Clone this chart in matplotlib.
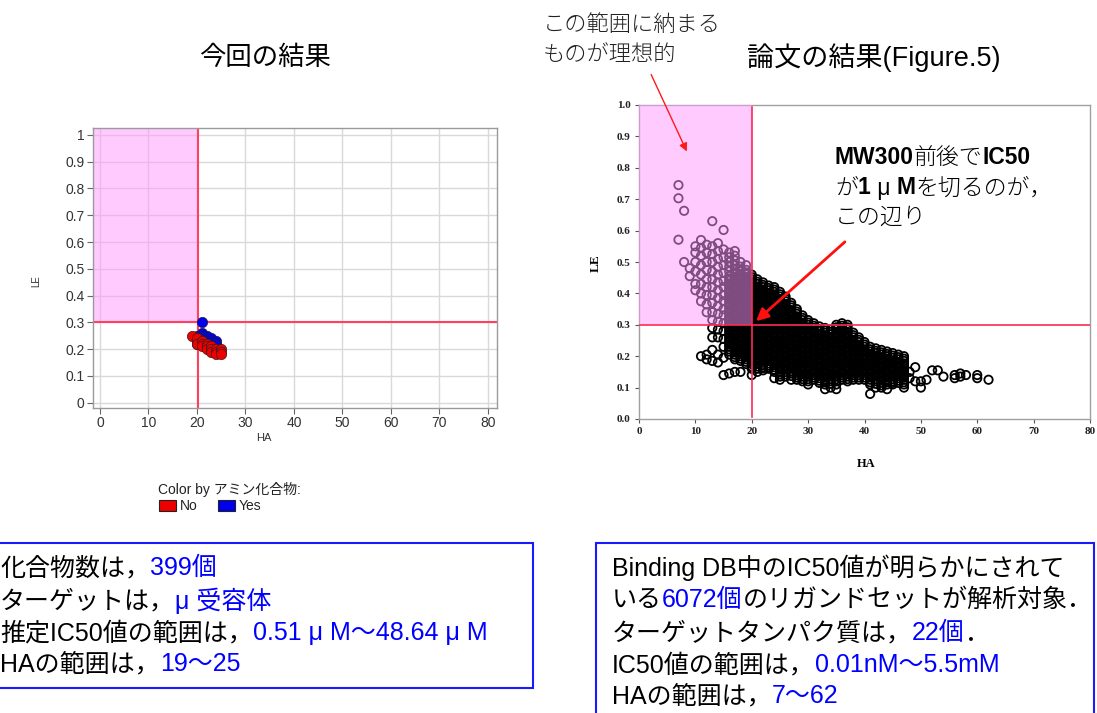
import matplotlib
matplotlib.use("Agg")
import matplotlib.pyplot as plt
from matplotlib.patches import Rectangle, FancyArrowPatch

plt.rcParams['font.family'] = ['Noto Sans CJK JP', 'DejaVu Sans']

# ---------------- data ----------------
# this study: heavy-atom count (HA) vs ligand efficiency (LE), coloured by amine flag
amine_no_ha = [19, 20, 20, 21, 21, 21, 22, 22, 22, 23, 23, 23, 24, 24, 24, 25, 25, 25]
amine_no_le = [0.25, 0.24, 0.22, 0.23, 0.22, 0.21, 0.22, 0.21, 0.20, 0.21, 0.20, 0.19,
               0.20, 0.19, 0.18, 0.20, 0.19, 0.18]
amine_yes_ha = [20, 20, 20, 21, 21, 21, 21, 22, 22, 22, 23, 23, 23, 24, 24, 24]
amine_yes_le = [0.25, 0.23, 0.22, 0.30, 0.26, 0.25, 0.24, 0.25, 0.24, 0.23, 0.24, 0.23,
                0.22, 0.23, 0.22, 0.21]

# paper (Figure 5): LE values listed per HA column
paper_ha = [7, 8, 9, 10, 11, 12, 13, 14, 15, 16, 17, 18, 19, 20, 21, 22, 23, 24, 25, 26,
            27, 28, 29, 30, 31, 32, 33, 34, 35, 36, 37, 38, 39, 40, 41, 42, 43, 44, 45,
            46, 47, 48, 49, 50, 51, 52, 53, 54, 56, 57, 58, 60, 62]
paper_le = [
    [0.745, 0.703, 0.571],
    [0.663, 0.500],
    [0.480, 0.455],
    [0.550, 0.530, 0.500, 0.470, 0.430, 0.410],
    [0.570, 0.545, 0.520, 0.490, 0.460, 0.430, 0.400, 0.375, 0.200],
    [0.555, 0.530, 0.500, 0.475, 0.445, 0.420, 0.395, 0.365, 0.340, 0.205, 0.190],
    [0.630, 0.550, 0.525, 0.500, 0.470, 0.445, 0.420, 0.395, 0.370, 0.340, 0.315, 0.290,
     0.260, 0.220, 0.185],
    [0.560, 0.535, 0.510, 0.485, 0.460, 0.435, 0.410, 0.385, 0.360, 0.335, 0.310, 0.285,
     0.260, 0.205, 0.180],
    [0.602, 0.540, 0.515, 0.490, 0.465, 0.440, 0.420, 0.395, 0.375, 0.350, 0.330, 0.305,
     0.280, 0.255, 0.230, 0.195, 0.140],
    [0.530, 0.515, 0.500, 0.485, 0.470, 0.455, 0.440, 0.425, 0.410, 0.395, 0.380, 0.365,
     0.350, 0.335, 0.320, 0.305, 0.290, 0.275, 0.260, 0.245, 0.230, 0.215, 0.205, 0.145],
    [0.535, 0.520, 0.505, 0.490, 0.475, 0.460, 0.445, 0.430, 0.415, 0.400, 0.385, 0.370,
     0.355, 0.340, 0.325, 0.310, 0.295, 0.280, 0.265, 0.250, 0.235, 0.220, 0.205, 0.190,
     0.150],
    [0.500, 0.485, 0.470, 0.455, 0.440, 0.425, 0.410, 0.395, 0.380, 0.365, 0.350, 0.335,
     0.320, 0.305, 0.290, 0.275, 0.260, 0.245, 0.230, 0.215, 0.200, 0.185, 0.150],
    [0.490, 0.475, 0.460, 0.445, 0.430, 0.415, 0.400, 0.385, 0.370, 0.355, 0.340, 0.325,
     0.310, 0.295, 0.280, 0.265, 0.250, 0.235, 0.220, 0.205, 0.190, 0.175],
    [0.460, 0.445, 0.430, 0.415, 0.400, 0.385, 0.370, 0.355, 0.340, 0.325, 0.310, 0.295,
     0.280, 0.265, 0.250, 0.235, 0.220, 0.205, 0.190, 0.175, 0.160, 0.140],
    [0.445, 0.430, 0.415, 0.400, 0.385, 0.370, 0.355, 0.340, 0.325, 0.310, 0.295, 0.280,
     0.265, 0.250, 0.235, 0.220, 0.205, 0.190, 0.175, 0.160, 0.150],
    [0.435, 0.420, 0.405, 0.390, 0.375, 0.360, 0.345, 0.330, 0.315, 0.300, 0.285, 0.270,
     0.255, 0.240, 0.225, 0.210, 0.195, 0.180, 0.165, 0.155],
    [0.425, 0.410, 0.395, 0.380, 0.365, 0.350, 0.335, 0.320, 0.305, 0.290, 0.275, 0.260,
     0.245, 0.230, 0.215, 0.200, 0.185, 0.170, 0.160],
    [0.420, 0.405, 0.390, 0.375, 0.360, 0.345, 0.330, 0.315, 0.300, 0.285, 0.270, 0.255,
     0.240, 0.225, 0.210, 0.195, 0.180, 0.165, 0.150, 0.130],
    [0.405, 0.390, 0.375, 0.360, 0.345, 0.330, 0.315, 0.300, 0.285, 0.270, 0.255, 0.240,
     0.225, 0.210, 0.195, 0.180, 0.165, 0.150, 0.135, 0.125],
    [0.390, 0.375, 0.360, 0.345, 0.330, 0.315, 0.300, 0.285, 0.270, 0.255, 0.240, 0.225,
     0.210, 0.195, 0.180, 0.165, 0.150, 0.135],
    [0.370, 0.355, 0.340, 0.325, 0.310, 0.295, 0.280, 0.265, 0.250, 0.235, 0.220, 0.205,
     0.190, 0.175, 0.160, 0.145, 0.125],
    [0.350, 0.335, 0.320, 0.305, 0.290, 0.275, 0.260, 0.245, 0.230, 0.215, 0.200, 0.185,
     0.170, 0.155, 0.140, 0.125],
    [0.330, 0.315, 0.300, 0.285, 0.270, 0.255, 0.240, 0.225, 0.210, 0.195, 0.180, 0.165,
     0.150, 0.135, 0.120],
    [0.315, 0.300, 0.285, 0.270, 0.255, 0.240, 0.225, 0.210, 0.195, 0.180, 0.165, 0.150,
     0.135, 0.120, 0.110],
    [0.305, 0.290, 0.275, 0.260, 0.245, 0.230, 0.215, 0.200, 0.185, 0.170, 0.155, 0.140,
     0.125],
    [0.295, 0.280, 0.265, 0.250, 0.235, 0.220, 0.205, 0.190, 0.175, 0.160, 0.145, 0.130,
     0.115],
    [0.290, 0.275, 0.260, 0.245, 0.230, 0.215, 0.200, 0.185, 0.170, 0.155, 0.140, 0.125,
     0.110, 0.095],
    [0.285, 0.270, 0.255, 0.240, 0.225, 0.210, 0.195, 0.180, 0.165, 0.150, 0.135, 0.120,
     0.100],
    [0.300, 0.285, 0.270, 0.255, 0.240, 0.225, 0.210, 0.195, 0.180, 0.165, 0.150, 0.135,
     0.120, 0.095],
    [0.305, 0.290, 0.275, 0.260, 0.245, 0.230, 0.215, 0.200, 0.185, 0.170, 0.155, 0.140,
     0.125],
    [0.300, 0.285, 0.270, 0.255, 0.240, 0.225, 0.210, 0.195, 0.180, 0.165, 0.150, 0.135,
     0.120],
    [0.275, 0.260, 0.245, 0.230, 0.215, 0.200, 0.185, 0.170, 0.155, 0.140, 0.125],
    [0.260, 0.245, 0.230, 0.215, 0.200, 0.185, 0.170, 0.155, 0.140, 0.125],
    [0.245, 0.230, 0.215, 0.200, 0.185, 0.170, 0.155, 0.140, 0.125],
    [0.230, 0.215, 0.200, 0.185, 0.170, 0.155, 0.140, 0.125, 0.110, 0.080],
    [0.225, 0.210, 0.195, 0.180, 0.165, 0.150, 0.135, 0.120, 0.100],
    [0.220, 0.205, 0.190, 0.175, 0.160, 0.145, 0.130, 0.115, 0.100],
    [0.215, 0.200, 0.185, 0.170, 0.155, 0.140, 0.125, 0.110, 0.095],
    [0.210, 0.195, 0.180, 0.165, 0.150, 0.135, 0.120, 0.110],
    [0.205, 0.190, 0.175, 0.160, 0.145, 0.130, 0.115],
    [0.200, 0.185, 0.170, 0.155, 0.140, 0.125, 0.110, 0.100],
    [0.150, 0.130],
    [0.165, 0.120],
    [0.120, 0.100],
    [0.125],
    [0.155],
    [0.155],
    [0.135],
    [0.130, 0.140],
    [0.145, 0.135],
    [0.140],
    [0.140, 0.130],
    [0.125],
]

# paper (Figure 5): further ligands packed into the dense core of the cloud
core_ha = [16, 17, 18, 19, 20, 21, 22, 23, 24, 25, 26, 27, 28, 29, 30, 31, 32, 33, 34, 35,
           36, 37, 38, 39, 40, 41, 42, 43, 44, 45, 46, 47]
core_le = [
    [0.447, 0.432, 0.417, 0.402, 0.387, 0.372, 0.357, 0.342, 0.327, 0.312, 0.297, 0.282,
     0.267, 0.252, 0.237, 0.222],
    [0.467, 0.452, 0.437, 0.422, 0.407, 0.392, 0.377, 0.362, 0.347, 0.332, 0.317, 0.302,
     0.287, 0.272, 0.257, 0.242, 0.227, 0.212, 0.197],
    [0.477, 0.462, 0.447, 0.432, 0.417, 0.402, 0.387, 0.372, 0.357, 0.342, 0.327, 0.312,
     0.297, 0.282, 0.267, 0.252, 0.237, 0.222, 0.207, 0.192],
    [0.467, 0.452, 0.437, 0.422, 0.407, 0.392, 0.377, 0.362, 0.347, 0.332, 0.317, 0.302,
     0.287, 0.272, 0.257, 0.242, 0.227, 0.212, 0.197, 0.182],
    [0.452, 0.437, 0.422, 0.407, 0.392, 0.377, 0.362, 0.347, 0.332, 0.317, 0.302, 0.287,
     0.272, 0.257, 0.242, 0.227, 0.212, 0.197, 0.182, 0.167],
    [0.437, 0.422, 0.407, 0.392, 0.377, 0.362, 0.347, 0.332, 0.317, 0.302, 0.287, 0.272,
     0.257, 0.242, 0.227, 0.212, 0.197, 0.182, 0.167],
    [0.427, 0.412, 0.397, 0.382, 0.367, 0.352, 0.337, 0.322, 0.307, 0.292, 0.277, 0.262,
     0.247, 0.232, 0.217, 0.202, 0.187, 0.172, 0.162],
    [0.417, 0.402, 0.387, 0.372, 0.357, 0.342, 0.327, 0.312, 0.297, 0.282, 0.267, 0.252,
     0.237, 0.222, 0.207, 0.192, 0.177, 0.165],
    [0.412, 0.397, 0.382, 0.367, 0.352, 0.337, 0.322, 0.307, 0.292, 0.277, 0.262, 0.247,
     0.232, 0.217, 0.202, 0.187, 0.172, 0.157],
    [0.397, 0.382, 0.367, 0.352, 0.337, 0.322, 0.307, 0.292, 0.277, 0.262, 0.247, 0.232,
     0.217, 0.202, 0.187, 0.172, 0.157, 0.142],
    [0.382, 0.367, 0.352, 0.337, 0.322, 0.307, 0.292, 0.277, 0.262, 0.247, 0.232, 0.217,
     0.202, 0.187, 0.172, 0.157, 0.142],
    [0.362, 0.347, 0.332, 0.317, 0.302, 0.287, 0.272, 0.257, 0.242, 0.227, 0.212, 0.197,
     0.182, 0.167, 0.152, 0.137],
    [0.342, 0.327, 0.312, 0.297, 0.282, 0.267, 0.252, 0.237, 0.222, 0.207, 0.192, 0.177,
     0.162, 0.147, 0.132],
    [0.322, 0.307, 0.292, 0.277, 0.262, 0.247, 0.232, 0.217, 0.202, 0.187, 0.172, 0.157,
     0.142, 0.127],
    [0.307, 0.292, 0.277, 0.262, 0.247, 0.232, 0.217, 0.202, 0.187, 0.172, 0.157, 0.142,
     0.127],
    [0.297, 0.282, 0.267, 0.252, 0.237, 0.222, 0.207, 0.192, 0.177, 0.162, 0.147, 0.132],
    [0.287, 0.272, 0.257, 0.242, 0.227, 0.212, 0.197, 0.182, 0.167, 0.152, 0.137, 0.122],
    [0.282, 0.267, 0.252, 0.237, 0.222, 0.207, 0.192, 0.177, 0.162, 0.147, 0.132, 0.117],
    [0.277, 0.262, 0.247, 0.232, 0.217, 0.202, 0.187, 0.172, 0.157, 0.142, 0.127, 0.112],
    [0.292, 0.277, 0.262, 0.247, 0.232, 0.217, 0.202, 0.187, 0.172, 0.157, 0.142, 0.127,
     0.110],
    [0.297, 0.282, 0.267, 0.252, 0.237, 0.222, 0.207, 0.192, 0.177, 0.162, 0.147, 0.132],
    [0.292, 0.277, 0.262, 0.247, 0.232, 0.217, 0.202, 0.187, 0.172, 0.157, 0.142, 0.127],
    [0.267, 0.252, 0.237, 0.222, 0.207, 0.192, 0.177, 0.162, 0.147, 0.132],
    [0.252, 0.237, 0.222, 0.207, 0.192, 0.177, 0.162, 0.147, 0.132],
    [0.237, 0.222, 0.207, 0.192, 0.177, 0.162, 0.147, 0.132],
    [0.222, 0.207, 0.192, 0.177, 0.162, 0.147, 0.132, 0.117],
    [0.217, 0.202, 0.187, 0.172, 0.157, 0.142, 0.127, 0.112],
    [0.212, 0.197, 0.182, 0.167, 0.152, 0.137, 0.122, 0.107],
    [0.207, 0.192, 0.177, 0.162, 0.147, 0.132, 0.117],
    [0.202, 0.187, 0.172, 0.157, 0.142, 0.127, 0.115],
    [0.197, 0.182, 0.167, 0.152, 0.137, 0.122],
    [0.192, 0.177, 0.162, 0.147, 0.132, 0.117],
]

# thresholds of the "ideal" region
ha_cut = 20
le_cut = 0.30

x_ticks = [0, 10, 20, 30, 40, 50, 60, 70, 80]
y_ticks = [0, 0.1, 0.2, 0.3, 0.4, 0.5, 0.6, 0.7, 0.8, 0.9, 1.0]
left_y_labels = ["0", "0.1", "0.2", "0.3", "0.4", "0.5", "0.6", "0.7", "0.8", "0.9", "1"]
right_y_labels = ["0.0", "0.1", "0.2", "0.3", "0.4", "0.5", "0.6", "0.7", "0.8", "0.9", "1.0"]

# ---------------- figure ----------------
W, H = 1097, 713
fig = plt.figure(figsize=(W / 100, H / 100), dpi=100)
fig.patch.set_facecolor("white")


def fx(x):
    return x / W


def fy(y):
    return 1 - y / H


renderer = fig.canvas.get_renderer()
BLUE = "#0000ff"
LATIN_JP = ["Liberation Sans", "Noto Sans CJK JP"]


def rich_line(x_px, y_px, parts, size, family=LATIN_JP):
    """Draw consecutive text pieces (text, colour, weight) on one line."""
    x = x_px
    for part in parts:
        s, color = part[0], part[1]
        weight = part[2] if len(part) > 2 else "normal"
        t = fig.text(fx(x), fy(y_px), s, color=color, fontsize=size, fontweight=weight,
                     ha="left", va="center", family=family)
        x += t.get_window_extent(renderer).width


# ---------- left chart ----------
axL = fig.add_axes([fx(93), fy(408), (497 - 93) / W, (408 - 128) / H])
xl0, xl1 = -1.44, 81.9
yl0, yl1 = -0.02, 1.026
axL.set_xlim(xl0, xl1)
axL.set_ylim(yl0, yl1)
axL.set_axisbelow(True)
axL.grid(color="#d9d9d9", lw=1.0)
axL.set_xticks(x_ticks)
axL.set_yticks(y_ticks)
axL.set_yticklabels(left_y_labels)
for sp in axL.spines.values():
    sp.set_color("#9a9a9a")
    sp.set_linewidth(1.0)
axL.tick_params(length=4, width=0.8, color="#666666", labelsize=10, labelcolor="#333333",
                pad=2)
for lab in axL.get_xticklabels() + axL.get_yticklabels():
    lab.set_family("Liberation Sans")

axL.add_patch(Rectangle((xl0, le_cut + 0.003), ha_cut + 0.3 - xl0, yl1 - le_cut,
                        facecolor="#ff99ff", alpha=0.5, lw=0, zorder=1))
axL.axvline(ha_cut + 0.3, color="#ff4060", lw=1.5, zorder=2)
axL.axhline(le_cut + 0.003, color="#ff4060", lw=1.5, zorder=2)

axL.scatter(amine_yes_ha, amine_yes_le, s=55, color="#0000ee", edgecolors="#1a1a40",
            linewidths=0.5, zorder=3)
axL.scatter(amine_no_ha, amine_no_le, s=55, color="#ee0000", edgecolors="#401a1a",
            linewidths=0.5, zorder=4)

fig.text(fx(264), fy(438), "HA", fontsize=8, ha="center", va="center",
         family="Liberation Sans", color="#333333")
fig.text(fx(36), fy(281), "LE", fontsize=7, ha="center", va="center", rotation=90,
         family="Liberation Sans", color="#333333")

# legend
fig.text(fx(158), fy(489), "Color by アミン化合物:", fontsize=10, ha="left", va="center",
         family=LATIN_JP, color="#222222")
fig.patches.append(Rectangle((fx(159), fy(511)), 17 / W, 11 / H, facecolor="#ee0000",
                             edgecolor="#222222", lw=0.8, transform=fig.transFigure))
fig.text(fx(180), fy(506), "No", fontsize=10, ha="left", va="center",
         family="Liberation Sans", color="#222222")
fig.patches.append(Rectangle((fx(218), fy(511)), 17 / W, 11 / H, facecolor="#0000ee",
                             edgecolor="#222222", lw=0.8, transform=fig.transFigure))
fig.text(fx(239), fy(506), "Yes", fontsize=10, ha="left", va="center",
         family="Liberation Sans", color="#222222")

# ---------- right chart ----------
axR = fig.add_axes([fx(639), fy(419), 451 / W, 314 / H])
axR.set_xlim(0, 80)
axR.set_ylim(0, 1.0)

px = [h for h, col in zip(paper_ha, paper_le) for _ in col]
py = [v for col in paper_le for v in col]
px += [h for h, col in zip(core_ha, core_le) for _ in col]
py += [v for col in core_le for v in col]
axR.scatter(px, py, s=36, facecolors="none", edgecolors="black", linewidths=1.3, zorder=2)

axR.add_patch(Rectangle((0, le_cut), ha_cut, 1.0 - le_cut, facecolor=(1.0, 0.6, 1.0),
                        alpha=0.5, lw=0, zorder=3))
axR.plot([ha_cut, ha_cut], [0.007, 0.994], color="#ff2a55", lw=1.2, zorder=4)
axR.axhline(le_cut, color="#ff2a55", lw=1.2, zorder=4)

axR.set_xticks(x_ticks)
axR.set_yticks(y_ticks)
axR.set_yticklabels(right_y_labels)
for sp in axR.spines.values():
    sp.set_color("#a0a0a0")
    sp.set_linewidth(1.0)
axR.tick_params(length=3, width=0.8, color="#555555", labelsize=8, pad=3)
for lab in axR.get_xticklabels() + axR.get_yticklabels():
    lab.set_family("Liberation Serif")
    lab.set_fontweight("bold")
    lab.set_color("#222222")

fig.text(fx(866), fy(464), "HA", fontsize=9, ha="center", va="center",
         family="Liberation Serif", fontweight="bold")
fig.text(fx(596), fy(263), "LE", fontsize=9.5, ha="center", va="center", rotation=90,
         family="Liberation Serif", fontweight="bold")

# ---------- titles & annotations ----------
fig.text(fx(265), fy(57), "今回の結果", fontsize=19, ha="center", va="center")
fig.text(fx(874), fy(58), "論文の結果(Figure.5)", fontsize=19.5, ha="center", va="center",
         family=LATIN_JP)

fig.text(fx(543), fy(25), "この範囲に納まる", fontsize=16, ha="left", va="center",
         fontweight="light", color="#222222")
fig.text(fx(543), fy(55), "ものが理想的", fontsize=16, ha="left", va="center",
         fontweight="light", color="#222222")
fig.add_artist(FancyArrowPatch(
    (fx(650), fy(72)), (fx(688), fy(154)), transform=fig.transFigure,
    arrowstyle="-|>", mutation_scale=12, color="#ff1a1a", lw=1.0))

ann = 16.5
rich_line(835, 158, [("MW300", "black", "bold"), ("前後で", "black", "light"),
                     ("IC50", "black", "bold")], ann)
rich_line(835, 188, [("が", "black", "light"), ("1", "black", "bold"),
                     (" μ ", "black", "light"), ("M", "black", "bold"),
                     ("を切るのが，", "black", "light")], ann)
rich_line(835, 217, [("この辺り", "black", "light")], ann)
fig.add_artist(FancyArrowPatch(
    (fx(847), fy(240)), (fx(754), fy(323)), transform=fig.transFigure,
    arrowstyle="-|>", mutation_scale=18, color="#ff1010", lw=2.0))

# ---------- summary boxes ----------
fig.patches.append(Rectangle((fx(-5), fy(688)), (533 + 5) / W, (688 - 543) / H,
                             facecolor="white", edgecolor="#1a1aff", lw=1.5,
                             transform=fig.transFigure))
fig.patches.append(Rectangle((fx(596), fy(720)), (1094 - 596) / W, (720 - 543) / H,
                             facecolor="white", edgecolor="#1a1aff", lw=1.5,
                             transform=fig.transFigure))

box_size = 18
rich_line(0, 568, [("化合物数は，", "black"), ("399個", BLUE)], box_size)
rich_line(0, 601, [("ターゲットは，", "black"), ("μ 受容体", BLUE)], box_size)
rich_line(0, 633, [("推定IC50値の範囲は，", "black"), ("0.51 μ M〜48.64 μ M", BLUE)], box_size)
rich_line(0, 664, [("HAの範囲は，", "black"), ("19〜25", BLUE)], box_size)

rich_line(612, 568, [("Binding DB中のIC50値が明らかにされて", "black")], box_size)
rich_line(612, 600, [("いる", "black"), ("6072個", BLUE), ("のリガンドセットが解析対象．", "black")],
          box_size)
rich_line(612, 633, [("ターゲットタンパク質は，", "black"), ("22個", BLUE), ("．", "black")],
          box_size)
rich_line(612, 665, [("IC50値の範囲は，", "black"), ("0.01nM〜5.5mM", BLUE)], box_size)
rich_line(612, 696, [("HAの範囲は，", "black"), ("7〜62", BLUE)], box_size)

fig.savefig("out.png", dpi=100, facecolor="white")
